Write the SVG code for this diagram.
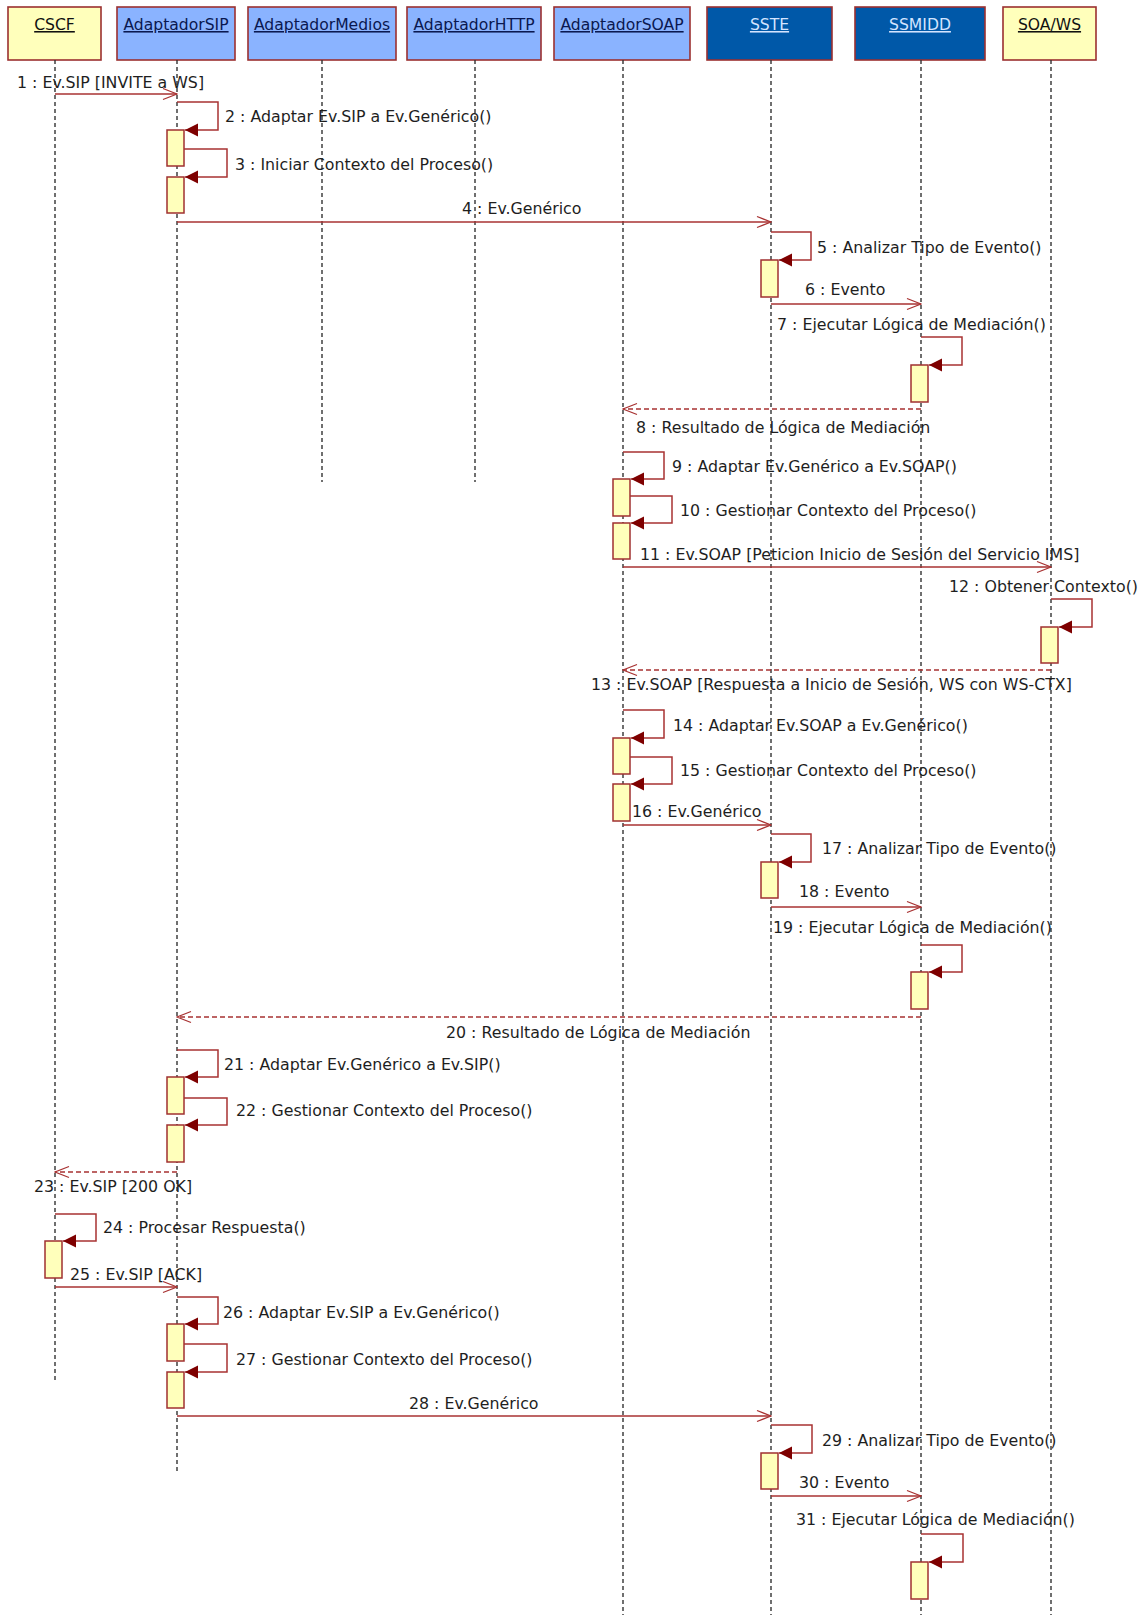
<svg xmlns="http://www.w3.org/2000/svg" width="1141" height="1615" viewBox="0 0 1141 1615">
  <style>
    .hd { stroke: #9B3030; stroke-width: 1.6; }
    .yel { fill: #FFFFBB; }
    .lb { fill: #8AB3FF; }
    .db { fill: #0058A8; }
    .ht { font-family: "DejaVu Sans", sans-serif; font-size: 15.6px; text-anchor: middle; text-decoration: underline; }
    .dk { fill: #111111; }
    .nv { fill: #0A1850; }
    .wt { fill: #D4E4FF; }
    .life { stroke: #333333; stroke-width: 1.4; stroke-dasharray: 4 3; fill: none; }
    .act { fill: #FFFFBB; stroke: #A03030; stroke-width: 1.5; }
    .msg { stroke: #A83232; stroke-width: 1.5; fill: none; }
    .call { marker-end: url(#open); }
    .self { marker-end: url(#solid); }
    .ret { stroke: #A83232; stroke-width: 1.4; stroke-dasharray: 5 3; fill: none; marker-end: url(#open); }
    .lbl { font-family: "DejaVu Sans", sans-serif; font-size: 15.8px; fill: #1E1E1E; }
  </style>
  <defs>
    <marker id="open" markerUnits="userSpaceOnUse" markerWidth="16" markerHeight="14" viewBox="0 0 16 14" refX="15" refY="7" orient="auto">
      <path d="M1,1.5 L15,7 L1,12.5" fill="none" stroke="#A83232" stroke-width="1.3"/>
    </marker>
    <marker id="solid" markerUnits="userSpaceOnUse" markerWidth="14" markerHeight="14" viewBox="0 0 14 14" refX="13" refY="7" orient="auto">
      <path d="M0,0.5 L13,7 L0,13.5 z" fill="#7E0000"/>
    </marker>
  </defs>

  <!-- participants: header, lifeline, activation bars -->
  <g id="CSCF">
    <rect class="hd yel" x="8" y="7" width="93" height="53"/>
    <text class="ht dk" x="54.5" y="30">CSCF</text>
    <line class="life" x1="55" y1="60" x2="55" y2="1380"/>
    <rect class="act" x="45" y="1241" width="17" height="37"/>
  </g>
  <g id="AdaptadorSIP">
    <rect class="hd lb" x="117" y="7" width="118" height="53"/>
    <text class="ht nv" x="176" y="30">AdaptadorSIP</text>
    <line class="life" x1="177" y1="60" x2="177" y2="1473"/>
    <rect class="act" x="167" y="130" width="17" height="36"/>
    <rect class="act" x="167" y="177" width="17" height="36"/>
    <rect class="act" x="167" y="1077" width="17" height="37"/>
    <rect class="act" x="167" y="1125" width="17" height="37"/>
    <rect class="act" x="167" y="1324" width="17" height="37"/>
    <rect class="act" x="167" y="1372" width="17" height="36"/>
  </g>
  <g id="AdaptadorMedios">
    <rect class="hd lb" x="248" y="7" width="148" height="53"/>
    <text class="ht nv" x="322" y="30">AdaptadorMedios</text>
    <line class="life" x1="322" y1="60" x2="322" y2="482"/>
  </g>
  <g id="AdaptadorHTTP">
    <rect class="hd lb" x="407" y="7" width="134" height="53"/>
    <text class="ht nv" x="474" y="30">AdaptadorHTTP</text>
    <line class="life" x1="475" y1="60" x2="475" y2="482"/>
  </g>
  <g id="AdaptadorSOAP">
    <rect class="hd lb" x="554" y="7" width="136" height="53"/>
    <text class="ht nv" x="622" y="30">AdaptadorSOAP</text>
    <line class="life" x1="623" y1="60" x2="623" y2="1615"/>
    <rect class="act" x="613" y="479" width="17" height="37"/>
    <rect class="act" x="613" y="523" width="17" height="36"/>
    <rect class="act" x="613" y="738" width="17" height="36"/>
    <rect class="act" x="613" y="784" width="17" height="37"/>
  </g>
  <g id="SSTE">
    <rect class="hd db" x="707" y="7" width="125" height="53"/>
    <text class="ht wt" x="769.5" y="30">SSTE</text>
    <line class="life" x1="771" y1="60" x2="771" y2="1615"/>
    <rect class="act" x="761" y="260" width="17" height="37"/>
    <rect class="act" x="761" y="862" width="17" height="36"/>
    <rect class="act" x="761" y="1453" width="17" height="36"/>
  </g>
  <g id="SSMIDD">
    <rect class="hd db" x="855" y="7" width="130" height="53"/>
    <text class="ht wt" x="920" y="30">SSMIDD</text>
    <line class="life" x1="921" y1="60" x2="921" y2="1615"/>
    <rect class="act" x="911" y="365" width="17" height="37"/>
    <rect class="act" x="911" y="972" width="17" height="37"/>
    <rect class="act" x="911" y="1562" width="17" height="37"/>
  </g>
  <g id="SOA_WS">
    <rect class="hd yel" x="1003" y="7" width="93" height="53"/>
    <text class="ht dk" x="1049.5" y="30">SOA/WS</text>
    <line class="life" x1="1051" y1="60" x2="1051" y2="1615"/>
    <rect class="act" x="1041" y="627" width="17" height="36"/>
  </g>

  <!-- messages -->
  <g id="connectors">
    <path class="msg call" d="M55,94 H177"/>
    <path class="msg self" d="M177,102 H218 V130 H185"/>
    <path class="msg self" d="M184,149 H227 V177 H185"/>
    <path class="msg call" d="M177,222 H771"/>
    <path class="msg self" d="M771,232 H811 V260 H779"/>
    <path class="msg call" d="M771,304 H921"/>
    <path class="msg self" d="M921,337 H962 V365 H929"/>
    <path class="ret" d="M921,409 H623"/>
    <path class="msg self" d="M623,452 H664 V479 H631"/>
    <path class="msg self" d="M630,496 H672 V523 H631"/>
    <path class="msg call" d="M623,567 H1051"/>
    <path class="msg self" d="M1051,599 H1092 V627 H1059"/>
    <path class="ret" d="M1051,670 H623"/>
    <path class="msg self" d="M623,710 H664 V738 H631"/>
    <path class="msg self" d="M630,757 H672 V784 H631"/>
    <path class="msg call" d="M623,825 H771"/>
    <path class="msg self" d="M771,834 H811 V862 H779"/>
    <path class="msg call" d="M771,907 H921"/>
    <path class="msg self" d="M921,945 H962 V972 H929"/>
    <path class="ret" d="M921,1017 H177"/>
    <path class="msg self" d="M177,1050 H218 V1077 H185"/>
    <path class="msg self" d="M184,1098 H227 V1125 H185"/>
    <path class="ret" d="M177,1172 H55"/>
    <path class="msg self" d="M55,1214 H96 V1241 H63"/>
    <path class="msg call" d="M55,1287 H177"/>
    <path class="msg self" d="M177,1297 H218 V1324 H185"/>
    <path class="msg self" d="M184,1344 H227 V1372 H185"/>
    <path class="msg call" d="M177,1416 H771"/>
    <path class="msg self" d="M771,1425 H812 V1453 H779"/>
    <path class="msg call" d="M771,1496 H921"/>
    <path class="msg self" d="M921,1534 H963 V1562 H929"/>

    <text class="lbl" x="17" y="88">1 : Ev.SIP [INVITE a WS]</text>
    <text class="lbl" x="225" y="122">2 : Adaptar Ev.SIP a Ev.Genérico()</text>
    <text class="lbl" x="235" y="170">3 : Iniciar Contexto del Proceso()</text>
    <text class="lbl" x="462" y="214">4 : Ev.Genérico</text>
    <text class="lbl" x="817" y="253">5 : Analizar Tipo de Evento()</text>
    <text class="lbl" x="805" y="295">6 : Evento</text>
    <text class="lbl" x="777" y="330">7 : Ejecutar Lógica de Mediación()</text>
    <text class="lbl" x="636" y="433">8 : Resultado de Lógica de Mediación</text>
    <text class="lbl" x="672" y="472">9 : Adaptar Ev.Genérico a Ev.SOAP()</text>
    <text class="lbl" x="680" y="516">10 : Gestionar Contexto del Proceso()</text>
    <text class="lbl" x="640" y="560">11 : Ev.SOAP [Peticion Inicio de Sesión del Servicio IMS]</text>
    <text class="lbl" x="949" y="592">12 : Obtener Contexto()</text>
    <text class="lbl" x="591" y="690">13 : Ev.SOAP [Respuesta a Inicio de Sesión, WS con WS-CTX]</text>
    <text class="lbl" x="673" y="731">14 : Adaptar Ev.SOAP a Ev.Genérico()</text>
    <text class="lbl" x="680" y="776">15 : Gestionar Contexto del Proceso()</text>
    <text class="lbl" x="632" y="817">16 : Ev.Genérico</text>
    <text class="lbl" x="822" y="854">17 : Analizar Tipo de Evento()</text>
    <text class="lbl" x="799" y="897">18 : Evento</text>
    <text class="lbl" x="773" y="933">19 : Ejecutar Lógica de Mediación()</text>
    <text class="lbl" x="446" y="1038">20 : Resultado de Lógica de Mediación</text>
    <text class="lbl" x="224" y="1070">21 : Adaptar Ev.Genérico a Ev.SIP()</text>
    <text class="lbl" x="236" y="1116">22 : Gestionar Contexto del Proceso()</text>
    <text class="lbl" x="34" y="1192">23 : Ev.SIP [200 OK]</text>
    <text class="lbl" x="103" y="1233">24 : Procesar Respuesta()</text>
    <text class="lbl" x="70" y="1280">25 : Ev.SIP [ACK]</text>
    <text class="lbl" x="223" y="1318">26 : Adaptar Ev.SIP a Ev.Genérico()</text>
    <text class="lbl" x="236" y="1365">27 : Gestionar Contexto del Proceso()</text>
    <text class="lbl" x="409" y="1409">28 : Ev.Genérico</text>
    <text class="lbl" x="822" y="1446">29 : Analizar Tipo de Evento()</text>
    <text class="lbl" x="799" y="1488">30 : Evento</text>
    <text class="lbl" x="796" y="1525">31 : Ejecutar Lógica de Mediación()</text>
  </g>
</svg>
